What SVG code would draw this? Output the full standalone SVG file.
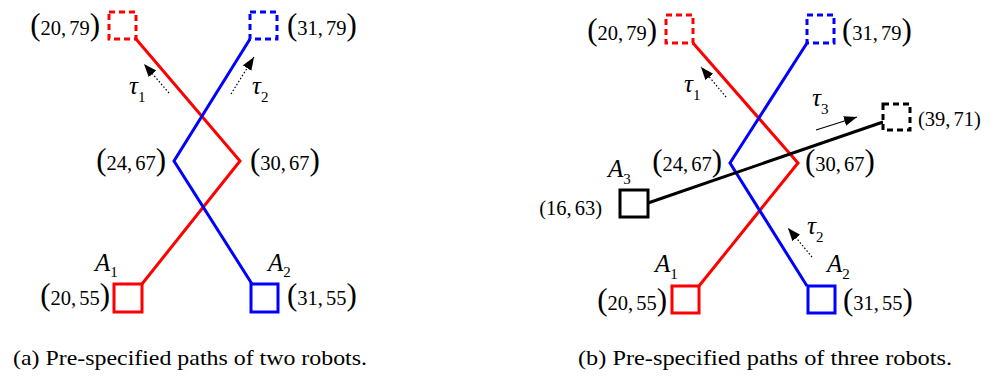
<svg xmlns="http://www.w3.org/2000/svg" width="994" height="383" viewBox="0 0 994 383">
  <defs>
    <style>
      .path { fill: none; stroke-width: 3; stroke-linejoin: miter; }
      .red { stroke: #ff0000; }
      .blue { stroke: #0000ff; }
      .black { stroke: #000000; }
      .start { fill: #ffffff; stroke-width: 3; }
      .goal { fill: #ffffff; stroke-width: 3; stroke-dasharray: 6 4; }
      .lbl { font-size: 20.5px; fill: #000; }
      .big { font-size: 31px; }
      .sym { font-style: italic; font-size: 25px; fill: #000; }
      .sub { font-style: normal; font-size: 15px; }
      .hint { stroke: #000; stroke-width: 1.2; fill: none; }
      .dots { stroke-dasharray: 1.5 2; }
      .cap { font-size: 21px; fill: #000; }
    </style>
    <marker id="head" markerUnits="userSpaceOnUse" markerWidth="14" markerHeight="12" refX="13" refY="5" orient="auto">
      <path d="M0,0 L13,5 L0,10 z" fill="#000"/>
    </marker>
  </defs>
  <rect width="994" height="383" fill="#ffffff"/>

  <!-- robot paths -->
  <g id="connectors">
    <!-- panel (a) -->
    <polyline class="path red" points="142,284 240,161 136,39"/>
    <polyline class="path blue" points="252,284 174,161 250,39"/>
    <!-- panel (b) -->
    <polyline class="path red" points="699,286 798,163 693,43"/>
    <polyline class="path blue" points="807,286 730,163 807,43"/>
    <line class="path black" x1="648" y1="203" x2="883" y2="122" stroke-width="3.5"/>
    <!-- direction hints -->
    <line class="hint dots" x1="169" y1="93" x2="144" y2="64" marker-end="url(#head)"/>
    <line class="hint dots" x1="231" y1="94" x2="254" y2="57" marker-end="url(#head)"/>
    <line class="hint dots" x1="726" y1="97" x2="701" y2="67" marker-end="url(#head)"/>
    <line class="hint dots" x1="812" y1="257" x2="788" y2="228" marker-end="url(#head)"/>
    <line class="hint" x1="816" y1="130" x2="857" y2="117" marker-end="url(#head)"/>
  </g>

  <g font-family="Liberation Serif, DejaVu Serif, serif">
  <!-- panel (a) nodes -->
  <g id="a-goal1">
    <rect class="goal red" x="109" y="12" width="27" height="27"/>
    <text class="lbl" x="100" y="35" text-anchor="end"><tspan class="big">(</tspan>20,<tspan dx="3">79</tspan><tspan class="big">)</tspan></text>
  </g>
  <g id="a-goal2">
    <rect class="goal blue" x="250" y="12" width="27" height="27"/>
    <text class="lbl" x="287" y="35"><tspan class="big">(</tspan>31,<tspan dx="3">79</tspan><tspan class="big">)</tspan></text>
  </g>
  <g id="a-way1">
    <text class="lbl" x="166" y="170" text-anchor="end"><tspan class="big">(</tspan>24,<tspan dx="3">67</tspan><tspan class="big">)</tspan></text>
  </g>
  <g id="a-way2">
    <text class="lbl" x="250" y="170"><tspan class="big">(</tspan>30,<tspan dx="3">67</tspan><tspan class="big">)</tspan></text>
  </g>
  <g id="a-robot1">
    <rect class="start red" x="114" y="284" width="28" height="28"/>
    <text class="lbl" x="110" y="305" text-anchor="end"><tspan class="big">(</tspan>20,<tspan dx="3">55</tspan><tspan class="big">)</tspan></text>
    <text class="sym" x="95" y="271" font-size="21">A<tspan class="sub" dy="6">1</tspan></text>
  </g>
  <g id="a-robot2">
    <rect class="start blue" x="251" y="284" width="27" height="28"/>
    <text class="lbl" x="287" y="305"><tspan class="big">(</tspan>31,<tspan dx="3">55</tspan><tspan class="big">)</tspan></text>
    <text class="sym" x="268" y="271" font-size="21">A<tspan class="sub" dy="6">2</tspan></text>
  </g>
  <g id="a-tau">
    <text class="sym" x="129" y="94">τ<tspan class="sub" dy="8">1</tspan></text>
    <text class="sym" x="252" y="94">τ<tspan class="sub" dy="8">2</tspan></text>
  </g>

  <!-- panel (b) nodes -->
  <g id="b-goal1">
    <rect class="goal red" x="666" y="15" width="27" height="28"/>
    <text class="lbl" x="657" y="40" text-anchor="end"><tspan class="big">(</tspan>20,<tspan dx="3">79</tspan><tspan class="big">)</tspan></text>
  </g>
  <g id="b-goal2">
    <rect class="goal blue" x="807" y="15" width="27" height="28"/>
    <text class="lbl" x="842" y="40"><tspan class="big">(</tspan>31,<tspan dx="3">79</tspan><tspan class="big">)</tspan></text>
  </g>
  <g id="b-goal3">
    <rect class="goal black" x="883" y="104" width="27" height="26"/>
    <text class="lbl" x="918" y="126">(39,<tspan dx="3">71)</tspan></text>
  </g>
  <g id="b-way1">
    <text class="lbl" x="722" y="171" text-anchor="end"><tspan class="big">(</tspan>24,<tspan dx="3">67</tspan><tspan class="big">)</tspan></text>
  </g>
  <g id="b-way2">
    <text class="lbl" x="805" y="171"><tspan class="big">(</tspan>30,<tspan dx="3">67</tspan><tspan class="big">)</tspan></text>
  </g>
  <g id="b-robot1">
    <rect class="start red" x="672" y="286" width="27" height="27"/>
    <text class="lbl" x="667" y="310" text-anchor="end"><tspan class="big">(</tspan>20,<tspan dx="3">55</tspan><tspan class="big">)</tspan></text>
    <text class="sym" x="655" y="272" font-size="21">A<tspan class="sub" dy="7">1</tspan></text>
  </g>
  <g id="b-robot2">
    <rect class="start blue" x="808" y="286" width="27" height="27"/>
    <text class="lbl" x="843" y="310"><tspan class="big">(</tspan>31,<tspan dx="3">55</tspan><tspan class="big">)</tspan></text>
    <text class="sym" x="827" y="272" font-size="21">A<tspan class="sub" dy="7">2</tspan></text>
  </g>
  <g id="b-robot3">
    <rect class="start black" x="620" y="190" width="28" height="27"/>
    <text class="lbl" x="602" y="215" text-anchor="end">(16,<tspan dx="3">63)</tspan></text>
    <text class="sym" x="608" y="177" font-size="21">A<tspan class="sub" dy="7">3</tspan></text>
  </g>
  <g id="b-tau">
    <text class="sym" x="684" y="92">τ<tspan class="sub" dy="8">1</tspan></text>
    <text class="sym" x="807" y="234">τ<tspan class="sub" dy="8">2</tspan></text>
    <text class="sym" x="812" y="106">τ<tspan class="sub" dy="8">3</tspan></text>
  </g>

  <!-- captions -->
  <g id="captions">
    <text class="cap" x="13" y="365" textLength="354" lengthAdjust="spacingAndGlyphs">(a)  Pre-specified paths of two robots.</text>
    <text class="cap" x="578" y="365" textLength="374" lengthAdjust="spacingAndGlyphs">(b)  Pre-specified paths of three robots.</text>
  </g>
  </g>
</svg>
